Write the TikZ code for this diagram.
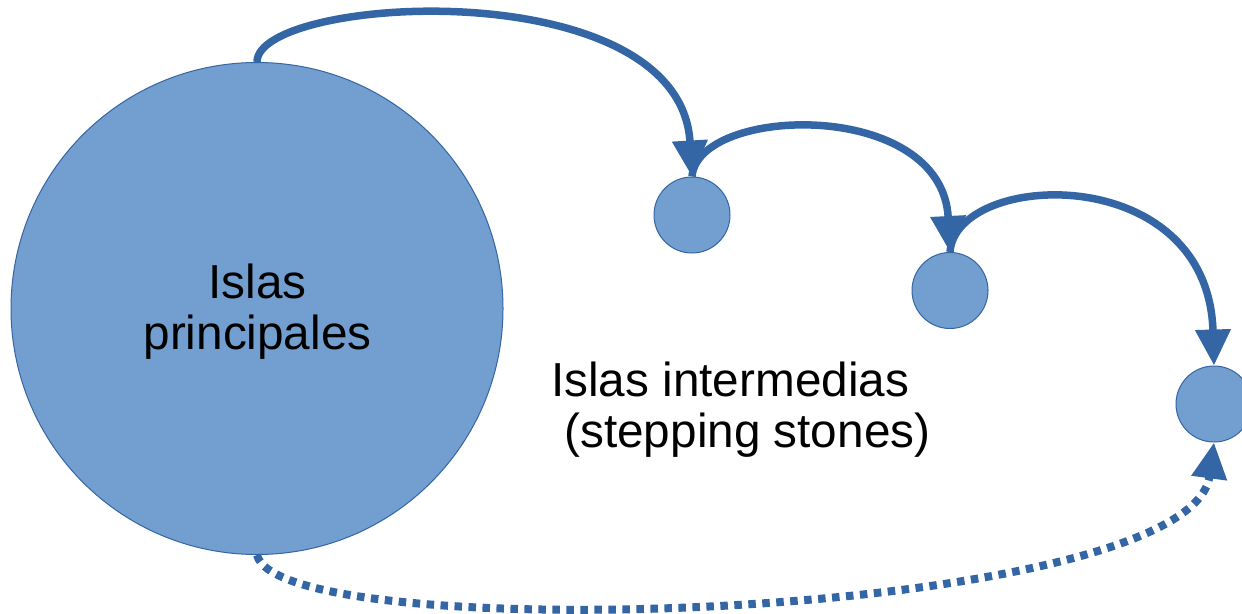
\documentclass[tikz,border=0pt]{standalone}
\usepackage{fontspec}
\setmainfont{Liberation Sans}
\usetikzlibrary{arrows.meta}
\definecolor{islefill}{HTML}{729FCF}
\definecolor{isleline}{HTML}{3465A4}
\begin{document}
\begin{tikzpicture}[x=1pt,y=-1pt,
  isle/.style={circle,fill=islefill,draw=isleline,line width=1pt,inner sep=0pt,minimum size=#1},
  hop/.style={draw=isleline,line width=7.5pt,-{Triangle[length=36pt,width=34pt]}},
  swim/.style={draw=isleline,line width=8pt,dash pattern=on 7.5pt off 6.5pt,-{Triangle[length=36pt,width=34pt]}},
  lbl/.style={font=\fontsize{47.7}{51}\selectfont,inner sep=0pt}]
\useasboundingbox (0,0) rectangle (1242,613);
\node[isle=492pt] (big) at (257,308.5) {};
\node[isle=76pt] (s1) at (692,215) {};
\node[isle=76pt] (s2) at (950,290.5) {};
\node[isle=76pt] (s3) at (1214,404) {};
\node[lbl,align=center] (bigtxt) at (257.5,312) {Islas\\principales};
\node[lbl,align=left,anchor=west] (midtxt) at (551,410) {Islas intermedias\\\hspace{0.278em}(stepping stones)};
\draw[hop] (big.north) .. controls (257,-5) and (680,-30) .. (s1.north);
\draw[hop] (s1.north) .. controls (698,105) and (942,98) .. (s2.north);
\draw[hop] (s2.north) .. controls (956,170) and (1208,160) .. (s3.north);
\draw[swim] (big.south) .. controls (280,650) and (1190,620) .. (s3.south);
\end{tikzpicture}
\end{document}
